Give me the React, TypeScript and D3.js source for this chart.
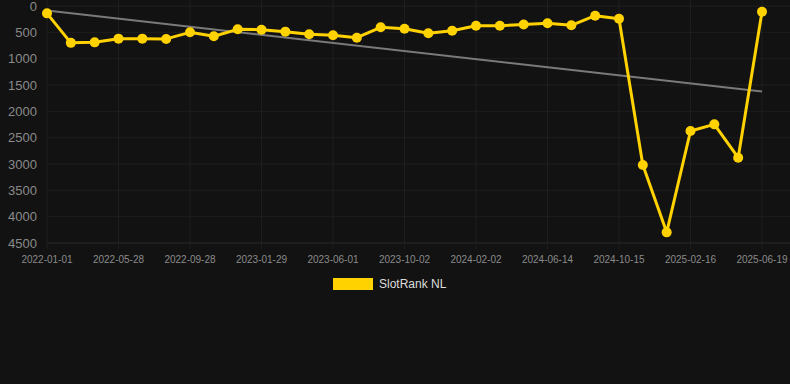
import React, { useEffect, useRef } from "react";
import * as d3 from "d3";

const dates = [
  "2022-01-01","2022-02-19","2022-04-09","2022-05-28","2022-07-08","2022-08-18",
  "2022-09-28","2022-11-07","2022-12-19","2023-01-29","2023-03-11","2023-04-21",
  "2023-06-01","2023-07-12","2023-08-22","2023-10-02","2023-11-12","2023-12-23",
  "2024-02-02","2024-03-15","2024-04-24","2024-06-14","2024-07-25","2024-09-04",
  "2024-10-15","2024-11-25","2025-01-05","2025-02-16","2025-03-29","2025-05-09",
  "2025-06-19"
];
const ranks = [
  140, 700, 690, 620, 620, 625, 500, 575, 443, 450, 487, 538, 557, 602, 405, 431,
  519, 469, 374, 374, 350, 329, 367, 184, 241, 3020, 4298, 2373, 2247, 2880, 108
];
const yTicks = [0, 500, 1000, 1500, 2000, 2500, 3000, 3500, 4000, 4500];
const seriesName = "SlotRank NL";

export default function App() {
  const ref = useRef<SVGSVGElement>(null);
  useEffect(() => {
    document.body.style.margin = "0";
    document.body.style.background = "#121212";
    const svg = d3.select(ref.current);
    svg.selectAll("*").remove();
    const W = 790, H = 384;
    const left = 47, right = 762, top = 6, bottom = 243;
    svg.append("rect").attr("width", W).attr("height", H).attr("fill", "#121212");

    const x = d3.scalePoint<string>().domain(dates).range([left, right]);
    const y = d3.scaleLinear().domain([0, 4500]).range([top, bottom]);

    const grid = svg.append("g");
    yTicks.forEach((t) => {
      grid.append("line").attr("x1", left).attr("x2", W).attr("y1", y(t)).attr("y2", y(t))
        .attr("stroke", t === 4500 ? "#2a2a2a" : "#1e1e1e").attr("stroke-width", 1);
      svg.append("text").attr("x", 37).attr("y", y(t)).attr("dy", "0.35em")
        .attr("text-anchor", "end").attr("fill", "#8a8a8a")
        .attr("font-family", "Arial, Liberation Sans, sans-serif").attr("font-size", 13)
        .text(String(t));
    });
    const tickDates = dates.filter((_, i) => i % 3 === 0);
    tickDates.forEach((d) => {
      grid.append("line").attr("x1", x(d)!).attr("x2", x(d)!).attr("y1", 0).attr("y2", bottom + 6)
        .attr("stroke", "#1e1e1e").attr("stroke-width", 1);
      svg.append("text").attr("x", x(d)!).attr("y", 259).attr("dy", "0.35em")
        .attr("text-anchor", "middle").attr("fill", "#8a8a8a")
        .attr("font-family", "Arial, Liberation Sans, sans-serif").attr("font-size", 10)
        .text(d);
    });

    // regression trend line
    const n = ranks.length;
    const idx = d3.range(n);
    const mx = d3.mean(idx)!, my = d3.mean(ranks)!;
    let sxy = 0, sxx = 0;
    idx.forEach((i) => { sxy += (i - mx) * (ranks[i] - my); sxx += (i - mx) * (i - mx); });
    const slope = sxy / sxx, icpt = my - slope * mx;
    svg.append("line")
      .attr("x1", x(dates[0])!).attr("y1", y(icpt))
      .attr("x2", x(dates[n - 1])!).attr("y2", y(icpt + slope * (n - 1)))
      .attr("stroke", "#7a7a7a").attr("stroke-width", 2);

    const line = d3.line<number>().x((_, i) => x(dates[i])!).y((v) => y(v));
    svg.append("path").datum(ranks).attr("d", line).attr("fill", "none")
      .attr("stroke", "#FFD200").attr("stroke-width", 3).attr("stroke-linejoin", "round");
    svg.append("g").selectAll("circle").data(ranks).join("circle")
      .attr("cx", (_, i) => x(dates[i])!).attr("cy", (v) => y(v)).attr("r", 5)
      .attr("fill", "#FFD200");

    svg.append("rect").attr("x", 333).attr("y", 278).attr("width", 40).attr("height", 12)
      .attr("fill", "#FFD200");
    svg.append("text").attr("x", 379).attr("y", 284).attr("dy", "0.35em")
      .attr("fill", "#dddddd").attr("font-family", "Arial, Liberation Sans, sans-serif")
      .attr("font-size", 12).text(seriesName);
  }, []);
  return (
    <div style={{ position: "absolute", left: 0, top: 0, width: 790, height: 384 }}>
      <svg ref={ref} width={790} height={384} style={{ display: "block" }} />
    </div>
  );
}
